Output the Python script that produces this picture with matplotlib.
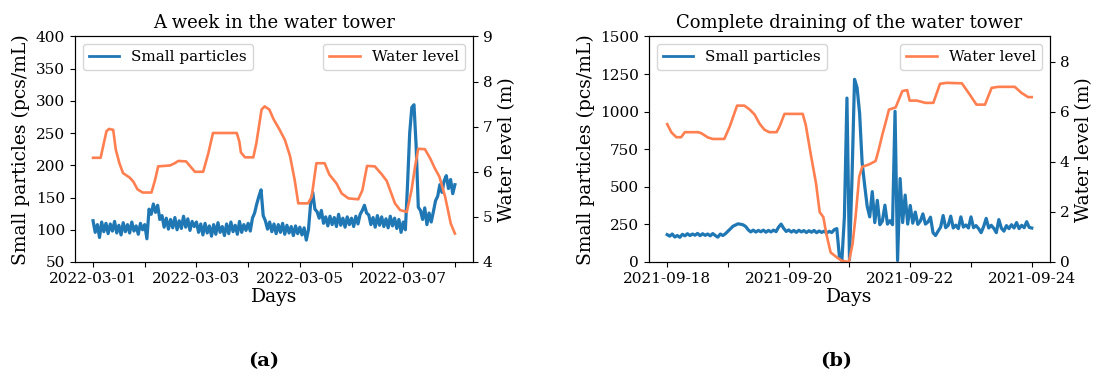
import numpy as np
import pandas as pd
import matplotlib
matplotlib.use('Agg')
import matplotlib.pyplot as plt

plt.rcParams['font.family'] = 'DejaVu Serif'

# ---- (a) one week, March 2022 ----
start_a = pd.Timestamp('2022-03-01')
# hourly particle counts (pcs/mL), h0 .. h168
particles_a = [
    114, 96, 108, 88, 112, 97, 110, 94, 109, 98, 113, 95, 107, 92, 111, 97, 108, 95, 112, 98, 106, 93, 110, 100,
    108, 86, 132, 124, 140, 127, 138, 116, 122, 104, 118, 101, 116, 103, 119, 100, 114, 102, 121, 104, 117, 99, 113, 105,
    112, 96, 109, 92, 110, 95, 106, 90, 108, 93, 111, 96, 105, 91, 109, 94, 112, 97, 107, 93, 113, 96, 108, 99,
    110, 98, 118, 126, 140, 152, 162, 122, 114, 101, 112, 97, 109, 94, 108, 96, 110, 93, 107, 95, 105, 91, 106, 94,
    104, 92, 103, 84, 100, 140, 158, 132, 128, 118, 130, 110, 120, 106, 121, 108, 119, 105, 124, 107, 118, 104, 120, 108,
    118, 105, 121, 109, 124, 130, 138, 126, 123, 108, 119, 104, 122, 107, 120, 105, 117, 103, 121, 106, 118, 102, 116, 96,
    112, 100, 170, 250, 290, 294, 230, 135, 130, 116, 134, 108, 126, 112, 128, 145, 152, 170, 158, 176, 184, 164, 178, 156,
    170,
]
# water level (m) at given day offsets
level_days_a = [0.0, 0.146, 0.26, 0.31, 0.39, 0.44, 0.51, 0.58, 0.71, 0.78, 0.86, 0.96, 1.13, 1.20, 1.26,
                1.49, 1.58, 1.65, 1.80, 1.97, 2.13, 2.23, 2.32, 2.78, 2.83, 2.86, 2.94, 3.10, 3.16, 3.26,
                3.32, 3.41, 3.49, 3.61, 3.71, 3.81, 3.90, 3.97, 4.16, 4.23, 4.32, 4.48, 4.57, 4.71, 4.81,
                4.94, 5.13, 5.21, 5.30, 5.45, 5.58, 5.68, 5.84, 5.94, 6.07, 6.16, 6.23, 6.29, 6.42, 6.52,
                6.61, 6.70, 6.81, 6.92, 7.0]
level_a = [6.31, 6.31, 6.90, 6.95, 6.93, 6.49, 6.19, 5.97, 5.87, 5.78, 5.61, 5.54, 5.54, 5.82, 6.12,
           6.14, 6.19, 6.24, 6.23, 6.00, 6.00, 6.41, 6.86, 6.86, 6.67, 6.43, 6.32, 6.32, 6.64, 7.38,
           7.45, 7.38, 7.17, 6.93, 6.71, 6.35, 5.82, 5.30, 5.30, 5.45, 6.19, 6.19, 5.94, 5.74, 5.52,
           5.41, 5.39, 5.59, 6.13, 6.12, 5.95, 5.80, 5.30, 5.15, 5.11, 5.59, 6.12, 6.51, 6.50, 6.30,
           6.08, 5.89, 5.45, 4.85, 4.63]
ticks_a = ['2022-03-01', '', '2022-03-03', '', '2022-03-05', '', '2022-03-07', '']

# ---- (b) draining, September 2021 ----
start_b = pd.Timestamp('2021-09-18')
particles_b = [
    182, 172, 186, 166, 176, 164, 184, 174, 188, 176, 186, 178, 190, 175, 188, 177, 186, 174, 189, 176, 165, 186, 176, 188,
    205, 222, 238, 246, 254, 251, 247, 236, 214, 200, 212, 199, 210, 201, 212, 198, 210, 200, 212, 202, 232, 252, 224, 203,
    213, 199, 210, 197, 211, 200, 209, 196, 208, 198, 210, 195, 206, 197, 205, 192, 204, 196, 215, 222, 40, 10, 300, 1090,
    15, 560, 1215, 1160, 990, 660, 510, 370, 300, 468, 262, 410, 248, 272, 378, 252, 275, 248, 1002, 10, 555, 262, 445, 252,
    376, 258, 332, 250, 272, 320, 252, 266, 298, 195, 176, 205, 232, 309, 228, 244, 305, 226, 245, 222, 300, 232, 246, 226,
    300, 228, 242, 222, 195, 236, 290, 226, 244, 224, 195, 282, 225, 205, 242, 222, 248, 226, 262, 222, 244, 228, 268, 230,
    226,
]
level_days_b = [0.0, 0.07, 0.15, 0.23, 0.29, 0.51, 0.56, 0.67, 0.75, 0.94, 1.03, 1.15, 1.27, 1.36, 1.44,
                1.52, 1.60, 1.68, 1.80, 1.85, 1.93, 2.23, 2.28, 2.36, 2.45, 2.51, 2.57, 2.62, 2.69, 2.80,
                2.88, 2.99, 3.05, 3.10, 3.16, 3.21, 3.32, 3.43, 3.48, 3.54, 3.60, 3.65, 3.76, 3.87, 3.95,
                3.99, 4.11, 4.25, 4.38, 4.49, 4.60, 4.85, 4.98, 5.09, 5.23, 5.34, 5.45, 5.72, 5.83, 5.94,
                6.0]
level_b = [5.50, 5.17, 4.98, 4.98, 5.18, 5.18, 5.14, 4.97, 4.91, 4.91, 5.41, 6.24, 6.24, 6.08, 5.88,
           5.52, 5.28, 5.18, 5.18, 5.41, 5.91, 5.91, 5.48, 4.34, 3.13, 1.99, 1.79, 1.11, 0.38, 0.17,
           0.04, 0.0, 0.71, 1.79, 3.40, 3.80, 3.89, 4.03, 4.47, 5.07, 5.61, 6.08, 6.17, 6.82, 6.86,
           6.44, 6.44, 6.35, 6.35, 7.11, 7.15, 7.13, 6.68, 6.28, 6.28, 6.95, 6.99, 6.99, 6.75, 6.58,
           6.58]
ticks_b = ['2021-09-18', '', '2021-09-20', '', '2021-09-22', '', '2021-09-24']

BLUE = '#1f77b4'
CORAL = '#ff7f50'
LABEL_FS = 13.5
TICK_FS = 11


def panel(fig, rect, start, particles, level_days, level, ticks, ylim1, yticks1, ylim2, yticks2, title):
    ax = fig.add_axes(rect)
    t = start + pd.to_timedelta(np.arange(len(particles)), unit='h')
    ax.plot(t, particles, color=BLUE, lw=2.3, label='Small particles')
    ax.set_ylim(*ylim1)
    ax.set_yticks(yticks1)
    ax.set_ylabel('Small particles (pcs/mL)', fontsize=LABEL_FS)
    ax.set_xlabel('Days', fontsize=LABEL_FS, labelpad=2)
    ax.set_title(title, fontsize=13)
    days = [start + pd.Timedelta(days=i) for i in range(len(ticks))]
    ax.set_xticks(days)
    ax.set_xticklabels(ticks)
    ax.tick_params(labelsize=TICK_FS)
    leg = ax.legend(loc='upper left', fontsize=TICK_FS)
    leg.get_lines()[0].set_linewidth(2)

    ax2 = ax.twinx()
    tl = start + pd.to_timedelta(level_days, unit='D')
    ax2.plot(tl, level, color=CORAL, lw=1.9, label='Water level')
    ax2.set_ylim(*ylim2)
    ax2.set_yticks(yticks2)
    ax2.set_ylabel('Water level (m)', fontsize=LABEL_FS)
    ax2.tick_params(labelsize=TICK_FS)
    ax2.legend(loc='upper right', fontsize=TICK_FS)
    return ax


fig = plt.figure(figsize=(10.99, 3.74), dpi=100)
panel(fig, [0.0682, 0.2995, 0.3622, 0.603], start_a, particles_a, level_days_a, level_a, ticks_a,
      (50, 400), range(50, 401, 50), (4, 9), range(4, 10), 'A week in the water tower')
panel(fig, [0.5905, 0.2995, 0.3649, 0.603], start_b, particles_b, level_days_b, level_b, ticks_b,
      (0, 1500), range(0, 1501, 250), (0, 9), range(0, 9, 2), 'Complete draining of the water tower')

fig.text(0.240, 0.02, '(a)', ha='center', fontsize=14, fontweight='bold')
fig.text(0.761, 0.02, '(b)', ha='center', fontsize=14, fontweight='bold')

fig.savefig('out.png', dpi=100)
